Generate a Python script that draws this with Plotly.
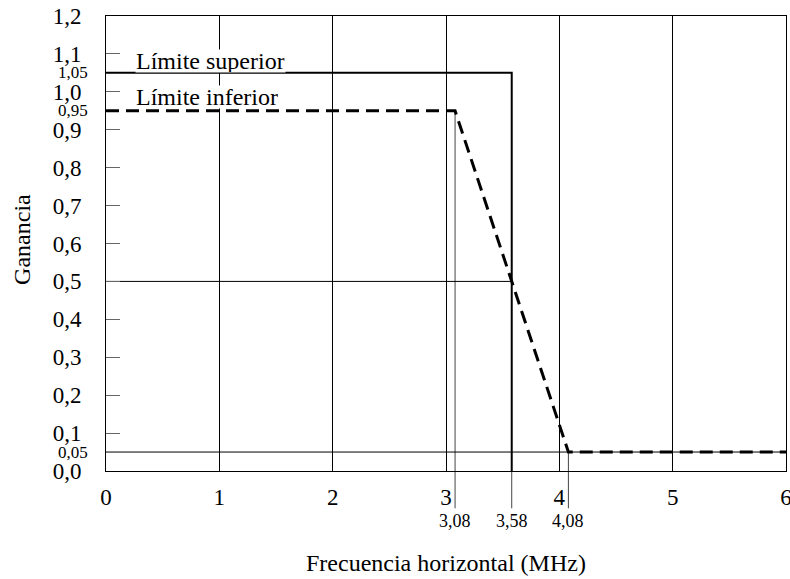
import plotly.graph_objects as go

# Data
upper_x = [0, 3.58, 3.58]
upper_y = [1.05, 1.05, 0.0]
lower_x = [0, 3.08, 4.08, 6]
lower_y = [0.95, 0.95, 0.05, 0.05]
y_ticks = [0.0, 0.1, 0.2, 0.3, 0.4, 0.5, 0.6, 0.7, 0.8, 0.9, 1.0, 1.1, 1.2]
y_ticktext = ["0,0", "0,1", "0,2", "0,3", "0,4", "0,5", "0,6", "0,7", "0,8", "0,9", "1,0", "1,1", "1,2"]
x_ticks = [0, 1, 2, 3, 4, 5, 6]
y_small = [1.05, 0.95, 0.05]
y_small_text = ["1,05", "0,95", "0,05"]
x_marks = [3.08, 3.58, 4.08]
x_marks_text = ["3,08", "3,58", "4,08"]
x_marks_top = [0.95, 0.0, 0.05]
Y_MAX = 1.2

FONT = "Liberation Serif"

fig = go.Figure()

fig.add_trace(go.Scatter(x=upper_x, y=upper_y, mode="lines",
                         line=dict(color="black", width=2), showlegend=False, hoverinfo="skip"))
fig.add_trace(go.Scatter(x=lower_x, y=lower_y, mode="lines",
                         line=dict(color="black", width=3, dash="13px,7px"), showlegend=False, hoverinfo="skip"))

shapes = []
# horizontal reference lines
shapes.append(dict(type="line", xref="x", yref="y", x0=0, x1=6, y0=0.05, y1=0.05,
                   line=dict(color="black", width=1), layer="below"))
shapes.append(dict(type="line", xref="x", yref="y", x0=0, x1=3.58, y0=0.5, y1=0.5,
                   line=dict(color="black", width=1), layer="below"))
# vertical marker lines extending below the axis
for xv, yt in zip(x_marks, x_marks_top):
    shapes.append(dict(type="line", xref="x", yref="paper", x0=xv, x1=xv,
                       y0=-0.082, y1=yt / Y_MAX,
                       line=dict(color="#444", width=1), layer="below"))

annotations = []
for yv, t in zip(y_small, y_small_text):
    annotations.append(dict(x=0, xref="paper", y=yv, yref="y", text=t, showarrow=False,
                            xanchor="right", yanchor="middle", xshift=-16,
                            font=dict(family=FONT, size=17, color="black")))
for xv, t in zip(x_marks, x_marks_text):
    annotations.append(dict(x=xv, xref="x", y=-0.11, yref="paper", text=t, showarrow=False,
                            xanchor="center", yanchor="middle",
                            font=dict(family=FONT, size=18, color="black")))
annotations.append(dict(x=0.256, xref="x", y=1.082, yref="y", text="Límite superior",
                        showarrow=False, xanchor="left", yanchor="middle", bgcolor="white",
                        borderpad=0, height=22, valign="middle",
                        font=dict(family=FONT, size=24, color="black")))
annotations.append(dict(x=0.256, xref="x", y=0.987, yref="y", text="Límite inferior",
                        showarrow=False, xanchor="left", yanchor="middle", bgcolor="white",
                        borderpad=0, height=22, valign="middle",
                        font=dict(family=FONT, size=24, color="black")))
annotations.append(dict(x=0.5, xref="paper", y=-0.202, yref="paper",
                        text="Frecuencia horizontal (MHz)", showarrow=False,
                        xanchor="center", yanchor="middle",
                        font=dict(family=FONT, size=24, color="black")))
annotations.append(dict(x=-0.1235, xref="paper", y=0.508, yref="paper",
                        text="Ganancia", showarrow=False, textangle=-90,
                        xanchor="center", yanchor="middle",
                        font=dict(family=FONT, size=24, color="black")))

fig.update_layout(
    width=790, height=579,
    margin=dict(l=106, r=4, t=16, b=108),
    paper_bgcolor="white", plot_bgcolor="white",
    font=dict(family=FONT, size=23, color="black"),
    shapes=shapes, annotations=annotations,
    xaxis=dict(range=[0, 6], tickvals=x_ticks, ticktext=[str(v) for v in x_ticks],
               showgrid=True, gridcolor="black", gridwidth=1,
               showline=True, linecolor="black", linewidth=1, mirror=True,
               ticks="", zeroline=False, ticklabelstandoff=5,
               ticklabeloverflow="allow", automargin=False,
               tickfont=dict(family=FONT, size=23, color="black")),
    yaxis=dict(range=[0, Y_MAX], tickvals=y_ticks, ticktext=y_ticktext,
               showgrid=False, showline=True, linecolor="black", linewidth=1, mirror=True,
               ticks="inside", ticklen=14, tickcolor="#666", tickwidth=1,
               zeroline=False, ticklabelstandoff=19, automargin=False,
               tickfont=dict(family=FONT, size=23, color="black")),
)

fig.write_html("out.html")
